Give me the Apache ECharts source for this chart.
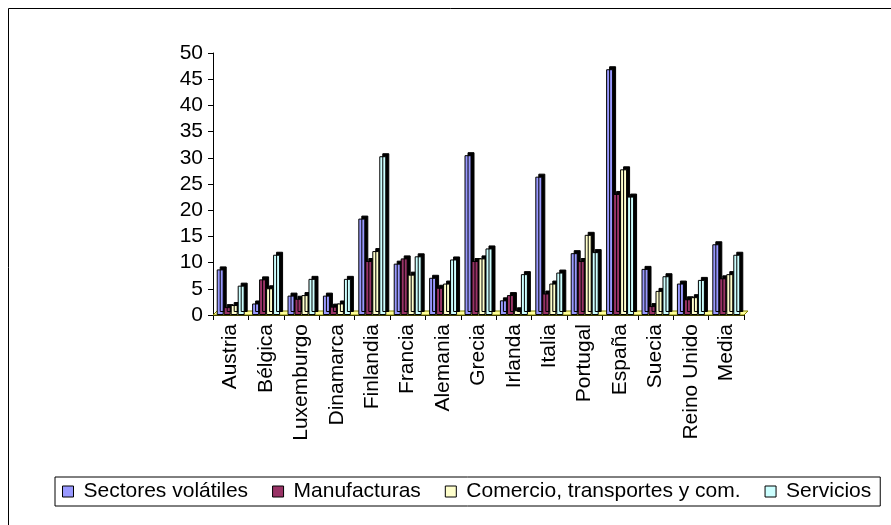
<!DOCTYPE html>
<html>
<head>
<meta charset="utf-8">
<script src="https://cdn.jsdelivr.net/npm/echarts@6/dist/echarts.min.js"></script>
<style>
  html, body { margin: 0; padding: 0; background: #fff; }
  #chart { width: 891px; height: 525px; }
</style>
</head>
<body>
<div id="chart"></div>
<script>
// Countries shown on the category axis
const categories = ['Austria', 'Bélgica', 'Luxemburgo', 'Dinamarca', 'Finlandia', 'Francia', 'Alemania',
  'Grecia', 'Irlanda', 'Italia', 'Portugal', 'España', 'Suecia', 'Reino Unido', 'Media'];

// Values per sector
const volatiles    = [8.7, 2.2, 3.7, 3.7, 18.4, 9.8, 7.1, 30.5, 2.8, 26.4, 11.8, 46.9, 8.8, 6.0, 13.5];
const manufacturas = [1.5, 6.8, 3.1, 1.6, 10.3, 10.8, 5.2, 10.3, 3.8, 4.1, 10.3, 23.1, 1.7, 3.0, 7.0];
const comercio     = [1.9, 5.1, 3.8, 2.2, 12.2, 7.7, 6.0, 10.8, 0.9, 6.0, 15.3, 27.8, 4.6, 3.4, 7.8];
const servicios    = [5.6, 11.5, 6.9, 6.9, 30.3, 11.2, 10.6, 12.7, 7.8, 8.1, 12.0, 22.6, 7.4, 6.7, 11.5];

const seriesNames = ['Sectores volátiles', 'Manufacturas', 'Comercio, transportes y com.', 'Servicios'];
const seriesData = [volatiles, manufacturas, comercio, servicios];
const colors = ['#9999ff', '#993366', '#ffffcc', '#ccffff'];

const DEPTH = 4;
const FONT = 'Liberation Sans, Arial, sans-serif';

const chart = echarts.init(document.getElementById('chart'), null, { renderer: 'canvas' });

// floor of the 3D plot, drawn from the grid rectangle
const floorSeries = {
  type: 'custom',
  name: 'floor',
  silent: true,
  z: 1,
  data: [0],
  renderItem: function (params, api) {
    const cs = params.coordSys;
    const yb = cs.y + cs.height;
    return {
      type: 'polygon',
      shape: {
        points: [[cs.x, yb], [cs.x + cs.width, yb], [cs.x + cs.width + DEPTH, yb - DEPTH], [cs.x + DEPTH, yb - DEPTH]]
      },
      style: { fill: '#ffff99', stroke: '#808000', lineWidth: 1 }
    };
  }
};

const barSeries = seriesNames.map((name, i) => ({
  type: 'bar',
  name: name,
  data: seriesData[i],
  z: 3,
  barGap: '0%',
  barCategoryGap: '21%',
  itemStyle: {
    color: colors[i],
    borderColor: '#000',
    borderWidth: 1,
    shadowColor: '#000',
    shadowBlur: 0,
    shadowOffsetX: DEPTH - 1,
    shadowOffsetY: -(DEPTH - 1)
  },
  emphasis: { disabled: true }
}));

chart.setOption({
  animation: false,
  backgroundColor: '#fff',
  color: colors,
  grid: { left: 213, top: 53, right: 147, bottom: 210, containLabel: false },
  xAxis: {
    type: 'category',
    data: categories,
    axisLine: { show: true, lineStyle: { color: '#000', width: 1 } },
    axisTick: { show: true, length: 5, lineStyle: { color: '#000' } },
    axisLabel: {
      rotate: 90, interval: 0, margin: 9,
      color: '#000', fontFamily: FONT, fontSize: 21
    },
    splitLine: { show: false }
  },
  yAxis: {
    type: 'value',
    min: 0, max: 50, interval: 5,
    axisLine: { show: true, lineStyle: { color: '#000', width: 1 } },
    axisTick: { show: true, length: 5, lineStyle: { color: '#000' } },
    axisLabel: { color: '#000', fontFamily: FONT, fontSize: 21, margin: 10 },
    splitLine: { show: false }
  },
  legend: {
    data: seriesNames,
    left: 55, top: 477,
    orient: 'horizontal',
    icon: 'rect',
    itemWidth: 11, itemHeight: 11,
    itemGap: 24,
    padding: [4, 9, 4, 7],
    borderColor: '#000', borderWidth: 1,
    textStyle: { color: '#000', fontFamily: FONT, fontSize: 21, padding: [0, 0, 0, 5] },
    itemStyle: { borderColor: '#000', borderWidth: 1, shadowColor: 'rgba(0,0,0,0)', shadowOffsetX: 0, shadowOffsetY: 0 }
  },
  graphic: [{
    type: 'rect',
    shape: { x: 8.5, y: 8.5, width: 900, height: 540 },
    style: { fill: 'none', stroke: '#000', lineWidth: 1 },
    silent: true
  }],
  series: [floorSeries].concat(barSeries)
});
</script>
</body>
</html>
